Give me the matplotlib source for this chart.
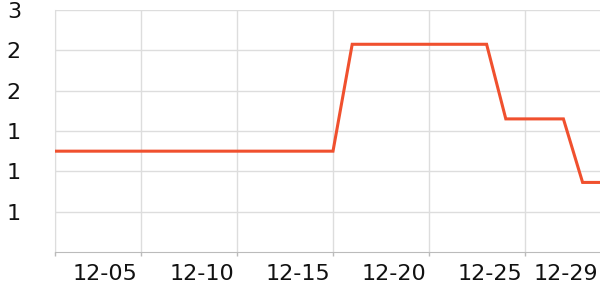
import numpy as np
import pandas as pd
import matplotlib
matplotlib.use("Agg")
import matplotlib.pyplot as plt
import matplotlib.dates as mdates
from matplotlib.ticker import FuncFormatter

# Datos
fechas = ["2023-11-30", "2023-12-01", "2023-12-02", "2023-12-03", "2023-12-04",
          "2023-12-05", "2023-12-06", "2023-12-07", "2023-12-08", "2023-12-09",
          "2023-12-10", "2023-12-11", "2023-12-12", "2023-12-13", "2023-12-14",
          "2023-12-15", "2023-12-16", "2023-12-17", "2023-12-18", "2023-12-19",
          "2023-12-20", "2023-12-21", "2023-12-22", "2023-12-23", "2023-12-24",
          "2023-12-25", "2023-12-26", "2023-12-27", "2023-12-28", "2023-12-29"]
valores = [1.6, 1.6, 1.6, 1.6, 1.6, 1.6, 1.6, 1.6, 1.6, 1.6,
           1.6, 1.6, 1.6, 1.6, 1.6, 1.6, 2.66, 2.66, 2.66, 2.66,
           2.66, 2.66, 2.66, 2.66, 1.92, 1.92, 1.92, 1.92, 1.29, 1.29]
fechas_ticks = ["2023-12-05", "2023-12-10", "2023-12-15", "2023-12-20", "2023-12-25"]
etiquetas_x = ["12-05", "12-10", "12-15", "12-20", "12-25", "12-29"]
fechas_etiquetas = ["2023-12-05", "2023-12-10", "2023-12-15", "2023-12-20", "2023-12-25", "2023-12-29"]
ticks_y = [1.0, 1.4, 1.8, 2.2, 2.6, 3.0]

x = mdates.date2num(pd.to_datetime(fechas))
centro = mdates.date2num(pd.Timestamp("2023-12-15"))

fig = plt.figure(figsize=(6, 3), dpi=100)
ax = fig.add_axes([55 / 600, 48 / 300, 545 / 600, 242 / 300])

ax.plot(x, valores, color="#f0502e", linewidth=2.2, solid_joinstyle="miter", zorder=3)

ax.set_xlim(centro - 14.479, centro + 13.906)
ax.set_ylim(0.6, 3.0)

# Rejilla vertical en los ticks mayores (sin texto)
xt = list(mdates.date2num(pd.to_datetime(fechas_ticks)))
ax.set_xticks([centro - 14.479] + xt)
ax.set_xticklabels([])
ax.tick_params(axis="x", which="major", length=3, color="#bbbbbb", width=1)

# Etiquetas del eje x desplazadas a la izquierda de cada tick
xl = mdates.date2num(pd.to_datetime(fechas_etiquetas)) - 1.85
ax.set_xticks(xl, minor=True)
ax.set_xticklabels(etiquetas_x, minor=True)
ax.tick_params(axis="x", which="minor", length=0, pad=8.5, labelsize=16, labelcolor="#111111")

ax.set_yticks(ticks_y)
ax.yaxis.set_major_formatter(FuncFormatter(lambda v, p: str(int(v + 1e-9))))
ax.tick_params(axis="y", length=0, pad=24.5, labelsize=16, labelcolor="#111111")

ax.grid(True, which="major", color="#dddddd", linewidth=1)
for s in ["top", "right"]:
    ax.spines[s].set_visible(False)
ax.spines["left"].set_color("#dddddd")
ax.spines["bottom"].set_color("#bbbbbb")

fig.savefig("out.png", dpi=100)
